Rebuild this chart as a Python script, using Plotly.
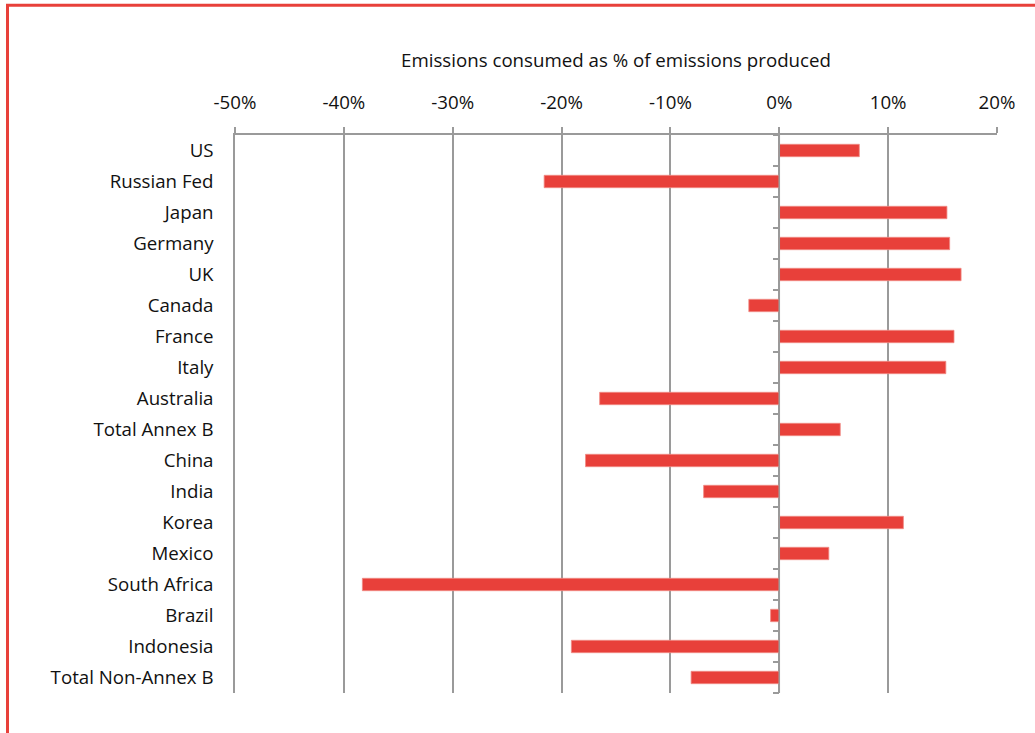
import plotly.graph_objects as go

categories = ["US", "Russian Fed", "Japan", "Germany", "UK", "Canada", "France", "Italy",
              "Australia", "Total Annex B", "China", "India", "Korea", "Mexico",
              "South Africa", "Brazil", "Indonesia", "Total Non-Annex B"]
values = [7.35, -21.6, 15.4, 15.65, 16.7, -2.8, 16.05, 15.3,
          -16.5, 5.6, -17.8, -6.95, 11.4, 4.55, -38.3, -0.8, -19.1, -8.1]
tick_vals = [-50, -40, -30, -20, -10, 0, 10, 20]
tick_text = ["-50%", "-40%", "-30%", "-20%", "-10%", "0%", "10%", "20%"]

W, H = 1035, 733
L, R, T, B = 235, 38, 135, 40
FONT = "Open Sans"
FS = 18.7
GRID = "#9a9a9a"
RED = "#E8403A"

fig = go.Figure()
fig.add_trace(go.Bar(
    y=categories, x=values, orientation="h",
    marker=dict(color=RED, line=dict(color="#f08a84", width=0.8)),
    width=0.4, showlegend=False, hoverinfo="skip",
))
# invisible trace for the category-boundary ticks on the zero axis
n = len(categories)
fig.add_trace(go.Scatter(x=[0, 0], y=[-0.5, n - 0.5], yaxis="y2", mode="lines",
                         line=dict(color=GRID, width=1.5), showlegend=False, hoverinfo="skip"))

xmin, xmax = -50, 20
zero_pos = (0 - xmin) / (xmax - xmin)

pw = W - L - R
ph = H - T - B
fig.update_layout(
    width=W, height=H,
    margin=dict(l=L, r=R, t=T, b=B),
    paper_bgcolor="white", plot_bgcolor="white",
    font=dict(family=FONT, size=FS, color="#111111"),
    bargap=0.6,
    xaxis=dict(
        range=[xmin, xmax], side="top", tickmode="array", tickvals=tick_vals, ticktext=tick_text,
        showgrid=True, gridcolor=GRID, gridwidth=1.5,
        showline=True, linecolor=GRID, linewidth=1.5,
        ticks="outside", ticklen=6, tickcolor=GRID, tickwidth=1.5,
        ticklabelstandoff=11,
        zeroline=False,
        title=dict(text="Emissions consumed as % of emissions produced", standoff=16,
                   font=dict(family=FONT, size=FS)),
        tickfont=dict(family=FONT, size=FS),
        fixedrange=True,
    ),
    yaxis=dict(
        type="category", categoryorder="array", categoryarray=categories,
        range=[n - 0.5, -0.5],
        showgrid=False, zeroline=False, showline=True, linecolor=GRID, linewidth=1.5,
        ticks="",
        ticklabelstandoff=16,
        tickfont=dict(family=FONT, size=FS),
        fixedrange=True,
    ),
    yaxis2=dict(
        overlaying="y", anchor="free", position=zero_pos, side="left",
        range=[n - 0.5, -0.5], tickmode="array",
        tickvals=[i - 0.5 for i in range(n + 1)],
        ticks="outside", ticklen=6, tickcolor=GRID, tickwidth=1.5,
        showticklabels=False, showgrid=False, zeroline=False, showline=False,
        fixedrange=True,
    ),
)

# red frame around the chart (decoration)
def px_to_paper_x(px):
    return (px - L) / pw

def px_to_paper_y(py):
    return (H - B - py) / ph

fig.add_shape(type="line", xref="paper", yref="paper",
              x0=px_to_paper_x(6), x1=px_to_paper_x(W + 5),
              y0=px_to_paper_y(5.3), y1=px_to_paper_y(5.3),
              line=dict(color=RED, width=3))
fig.add_shape(type="line", xref="paper", yref="paper",
              x0=px_to_paper_x(7.5), x1=px_to_paper_x(7.5),
              y0=px_to_paper_y(4), y1=px_to_paper_y(H + 5),
              line=dict(color=RED, width=3))

fig.write_html("out.html")
